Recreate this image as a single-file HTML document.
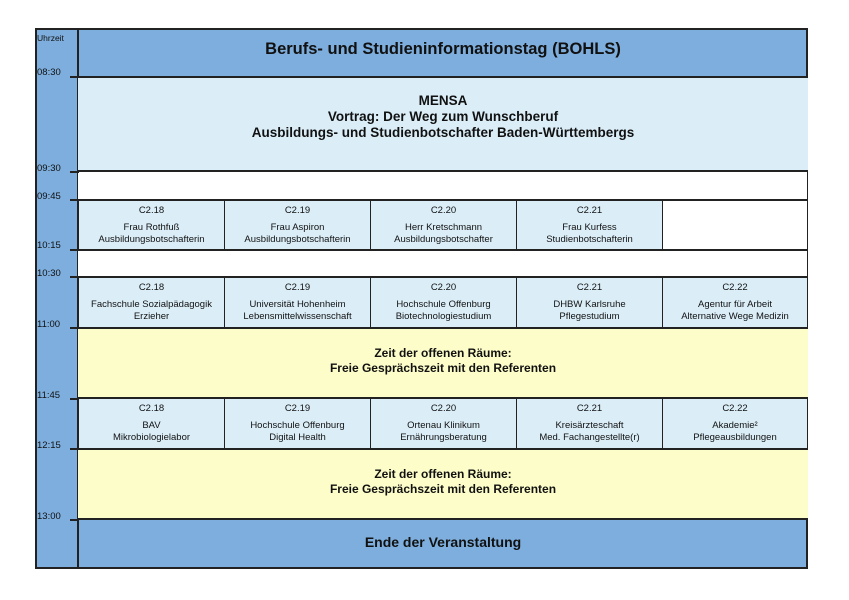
<!DOCTYPE html>
<html><head><meta charset="utf-8"><style>
body{margin:0;width:849px;height:600px;background:#fff;position:relative;font-family:"Liberation Sans",Arial,sans-serif;overflow:hidden}
div{position:absolute;box-sizing:border-box}
.c{text-align:center;color:#111}
.t{font-size:9.5px;left:37px;color:#111}
.tk{left:70px;width:9px;height:2px;background:#222}
.cell{background:#dbeef8;border:1px solid #222;font-size:9.5px;text-align:center;line-height:12px;color:#111}
.cell .r{position:absolute;left:0;right:0;top:4px}
.cell .n{position:absolute;left:0;right:0;top:21px}
.bold{font-weight:bold}
</style></head><body>
<div style="left:35px;top:28px;width:773px;height:541px;border:2px solid #222;background:#7daedd"></div>
<div style="left:77px;top:28px;width:2px;height:541px;background:#222"></div>
<div class="c bold" style="left:79px;top:40px;width:728px;font-size:16.5px">Berufs- und Studieninformationstag (BOHLS)</div>
<div style="left:78px;top:76px;width:730px;height:96px;background:#dbeef8;border-top:2px solid #222;border-bottom:2px solid #222"></div>
<div class="c bold" style="left:79px;top:93px;width:728px;font-size:13.5px;line-height:16px">MENSA<br>Vortrag: Der Weg zum Wunschberuf<br>Ausbildungs- und Studienbotschafter Baden-Württembergs</div>
<div style="left:78px;top:172px;width:729px;height:28px;background:#fff"></div>
<div style="left:78px;top:250px;width:729px;height:27px;background:#fff"></div>
<div style="left:662px;top:200px;width:145px;height:50px;background:#fff"></div>

<div class="cell" style="left:78px;top:200px;width:147px;height:51px"><div class="r">C2.18</div><div class="n">Frau Rothfuß<br>Ausbildungsbotschafterin</div></div>
<div class="cell" style="left:224px;top:200px;width:147px;height:51px"><div class="r">C2.19</div><div class="n">Frau Aspiron<br>Ausbildungsbotschafterin</div></div>
<div class="cell" style="left:370px;top:200px;width:147px;height:51px"><div class="r">C2.20</div><div class="n">Herr Kretschmann<br>Ausbildungsbotschafter</div></div>
<div class="cell" style="left:516px;top:200px;width:147px;height:51px"><div class="r">C2.21</div><div class="n">Frau Kurfess<br>Studienbotschafterin</div></div>
<div style="left:78px;top:199px;width:730px;height:2px;background:#222"></div>
<div style="left:78px;top:249px;width:730px;height:2px;background:#222"></div>

<div class="cell" style="left:78px;top:277px;width:147px;height:51px"><div class="r">C2.18</div><div class="n">Fachschule Sozialpädagogik<br>Erzieher</div></div>
<div class="cell" style="left:224px;top:277px;width:147px;height:51px"><div class="r">C2.19</div><div class="n">Universität Hohenheim<br>Lebensmittelwissenschaft</div></div>
<div class="cell" style="left:370px;top:277px;width:147px;height:51px"><div class="r">C2.20</div><div class="n">Hochschule Offenburg<br>Biotechnologiestudium</div></div>
<div class="cell" style="left:516px;top:277px;width:147px;height:51px"><div class="r">C2.21</div><div class="n">DHBW Karlsruhe<br>Pflegestudium</div></div>
<div class="cell" style="left:662px;top:277px;width:146px;height:51px"><div class="r">C2.22</div><div class="n">Agentur für Arbeit<br>Alternative Wege Medizin</div></div>
<div style="left:78px;top:276px;width:730px;height:2px;background:#222"></div>

<div style="left:78px;top:327px;width:730px;height:72px;background:#fdfdc9;border-top:2px solid #222;border-bottom:2px solid #222"></div>
<div class="c bold" style="left:79px;top:346px;width:728px;font-size:12px;line-height:15px">Zeit der offenen Räume:<br>Freie Gesprächszeit mit den Referenten</div>

<div class="cell" style="left:78px;top:398px;width:147px;height:51px"><div class="r">C2.18</div><div class="n">BAV<br>Mikrobiologielabor</div></div>
<div class="cell" style="left:224px;top:398px;width:147px;height:51px"><div class="r">C2.19</div><div class="n">Hochschule Offenburg<br>Digital Health</div></div>
<div class="cell" style="left:370px;top:398px;width:147px;height:51px"><div class="r">C2.20</div><div class="n">Ortenau Klinikum<br>Ernährungsberatung</div></div>
<div class="cell" style="left:516px;top:398px;width:147px;height:51px"><div class="r">C2.21</div><div class="n">Kreisärzteschaft<br>Med. Fachangestellte(r)</div></div>
<div class="cell" style="left:662px;top:398px;width:146px;height:51px"><div class="r">C2.22</div><div class="n">Akademie²<br>Pflegeausbildungen</div></div>

<div style="left:78px;top:448px;width:730px;height:72px;background:#fdfdc9;border-top:2px solid #222;border-bottom:2px solid #222"></div>
<div class="c bold" style="left:79px;top:467px;width:728px;font-size:12px;line-height:15px">Zeit der offenen Räume:<br>Freie Gesprächszeit mit den Referenten</div>
<div class="c bold" style="left:79px;top:534px;width:728px;font-size:14px">Ende der Veranstaltung</div>

<div class="t" style="top:33px;font-size:8.5px">Uhrzeit</div>
<div class="t" style="top:67px">08:30</div><div class="tk" style="top:76px"></div>
<div class="t" style="top:163px">09:30</div><div class="tk" style="top:171px"></div>
<div class="t" style="top:191px">09:45</div><div class="tk" style="top:199px"></div>
<div class="t" style="top:240px">10:15</div><div class="tk" style="top:249px"></div>
<div class="t" style="top:268px">10:30</div><div class="tk" style="top:276px"></div>
<div class="t" style="top:319px">11:00</div><div class="tk" style="top:327px"></div>
<div class="t" style="top:390px">11:45</div><div class="tk" style="top:398px"></div>
<div class="t" style="top:440px">12:15</div><div class="tk" style="top:448px"></div>
<div class="t" style="top:511px">13:00</div><div class="tk" style="top:519px"></div>
</body></html>
